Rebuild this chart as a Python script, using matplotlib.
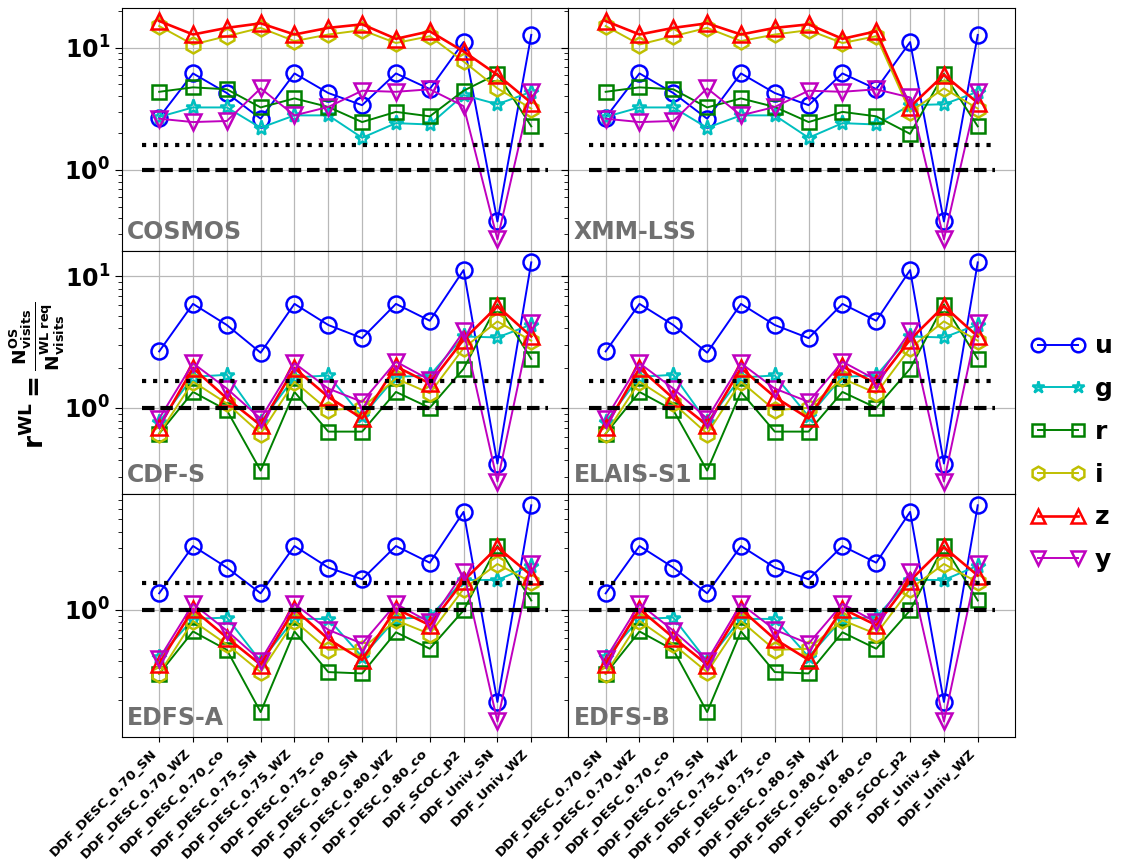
import matplotlib
matplotlib.use("Agg")
import matplotlib.pyplot as plt

configs = ['DDF_DESC_0.70_SN', 'DDF_DESC_0.70_WZ', 'DDF_DESC_0.70_co',
           'DDF_DESC_0.75_SN', 'DDF_DESC_0.75_WZ', 'DDF_DESC_0.75_co',
           'DDF_DESC_0.80_SN', 'DDF_DESC_0.80_WZ', 'DDF_DESC_0.80_co',
           'DDF_SCOC_p2', 'DDF_Univ_SN', 'DDF_Univ_WZ']
bands = ['u', 'g', 'r', 'i', 'z', 'y']
fields = ['COSMOS', 'XMM-LSS', 'CDF-S', 'ELAIS-S1', 'EDFS-A', 'EDFS-B']

# ratio of observing-strategy visits to WL-required visits, per field and band
cosmos_u = [2.68, 6.15, 4.25, 2.62, 6.15, 4.25, 3.38, 6.15, 4.58, 11.1, 0.378, 12.7]
cosmos_g = [2.71, 3.24, 3.24, 2.21, 2.79, 2.79, 1.83, 2.41, 2.35, 4.09, 3.44, 4.35]
cosmos_r = [4.35, 4.73, 4.56, 3.24, 3.84, 3.27, 2.46, 2.98, 2.74, 4.44, 6.10, 2.27]
cosmos_i = [15.0, 10.6, 12.4, 14.5, 11.3, 12.8, 13.9, 10.9, 12.4, 7.70, 4.64, 3.17]
cosmos_z = [16.5, 12.8, 14.5, 15.8, 12.8, 14.5, 15.5, 11.8, 13.6, 9.30, 5.98, 3.53]
cosmos_y = [2.62, 2.46, 2.51, 4.64, 2.79, 3.27, 4.44, 4.35, 4.56, 3.32, 0.270, 4.35]

xmm_u = [2.68, 6.15, 4.25, 2.62, 6.15, 4.25, 3.38, 6.15, 4.58, 11.1, 0.378, 12.7]
xmm_g = [2.71, 3.24, 3.24, 2.21, 2.79, 2.79, 1.83, 2.41, 2.35, 3.38, 3.44, 4.35]
xmm_r = [4.35, 4.73, 4.56, 3.24, 3.84, 3.27, 2.46, 2.98, 2.74, 1.97, 6.10, 2.27]
xmm_i = [15.0, 10.6, 12.4, 14.5, 11.3, 12.8, 13.9, 10.9, 12.4, 2.98, 4.64, 3.17]
xmm_z = [16.5, 12.8, 14.5, 15.8, 12.8, 14.5, 15.5, 11.8, 13.6, 3.27, 5.98, 3.53]
xmm_y = [2.62, 2.46, 2.51, 4.64, 2.79, 3.27, 4.44, 4.35, 4.56, 3.91, 0.270, 4.35]

cdfs_u = [2.68, 6.15, 4.25, 2.62, 6.15, 4.25, 3.38, 6.15, 4.58, 11.1, 0.378, 12.7]
cdfs_g = [0.78, 1.72, 1.78, 0.78, 1.70, 1.76, 0.86, 1.72, 1.76, 3.48, 3.42, 4.28]
cdfs_r = [0.637, 1.32, 0.96, 0.334, 1.32, 0.66, 0.66, 1.32, 1.00, 1.98, 6.08, 2.35]
cdfs_i = [0.637, 1.58, 1.08, 0.637, 1.58, 0.96, 1.00, 1.67, 1.29, 2.84, 4.53, 3.23]
cdfs_z = [0.716, 2.00, 1.18, 0.738, 2.00, 1.21, 0.83, 2.06, 1.53, 3.29, 5.90, 3.48]
cdfs_y = [0.829, 2.18, 1.40, 0.829, 2.18, 1.40, 1.11, 2.24, 1.63, 3.80, 0.276, 4.40]

elais_u = [2.68, 6.15, 4.25, 2.62, 6.15, 4.25, 3.38, 6.15, 4.58, 11.1, 0.378, 12.7]
elais_g = [0.78, 1.72, 1.78, 0.78, 1.70, 1.76, 0.86, 1.72, 1.76, 3.48, 3.42, 4.28]
elais_r = [0.637, 1.32, 0.96, 0.334, 1.32, 0.66, 0.66, 1.32, 1.00, 1.98, 6.08, 2.35]
elais_i = [0.637, 1.58, 1.08, 0.637, 1.58, 0.96, 1.00, 1.67, 1.29, 2.84, 4.53, 3.23]
elais_z = [0.716, 2.00, 1.18, 0.738, 2.00, 1.21, 0.83, 2.06, 1.53, 3.29, 5.90, 3.48]
elais_y = [0.829, 2.18, 1.40, 0.829, 2.18, 1.40, 1.11, 2.24, 1.63, 3.80, 0.276, 4.40]

edfsa_u = [1.34, 3.11, 2.12, 1.34, 3.11, 2.12, 1.72, 3.11, 2.31, 5.71, 0.194, 6.42]
edfsa_g = [0.43, 0.85, 0.87, 0.40, 0.85, 0.85, 0.433, 0.85, 0.88, 1.70, 1.70, 2.19]
edfsa_r = [0.32, 0.68, 0.49, 0.162, 0.68, 0.33, 0.322, 0.67, 0.50, 0.99, 3.12, 1.18]
edfsa_i = [0.32, 0.82, 0.54, 0.33, 0.82, 0.49, 0.50, 0.83, 0.65, 1.45, 2.26, 1.63]
edfsa_z = [0.382, 1.01, 0.61, 0.377, 1.01, 0.594, 0.41, 1.02, 0.76, 1.68, 3.04, 1.84]
edfsa_y = [0.418, 1.11, 0.69, 0.405, 1.11, 0.70, 0.548, 1.11, 0.80, 1.95, 0.137, 2.26]

edfsb_u = [1.34, 3.11, 2.12, 1.34, 3.11, 2.12, 1.72, 3.11, 2.31, 5.71, 0.194, 6.42]
edfsb_g = [0.43, 0.85, 0.87, 0.40, 0.85, 0.85, 0.433, 0.85, 0.88, 1.70, 1.70, 2.19]
edfsb_r = [0.32, 0.68, 0.49, 0.162, 0.68, 0.33, 0.322, 0.67, 0.50, 0.99, 3.12, 1.18]
edfsb_i = [0.32, 0.82, 0.54, 0.33, 0.82, 0.49, 0.50, 0.83, 0.65, 1.45, 2.26, 1.63]
edfsb_z = [0.382, 1.01, 0.61, 0.377, 1.01, 0.594, 0.41, 1.02, 0.76, 1.68, 3.04, 1.84]
edfsb_y = [0.418, 1.11, 0.69, 0.405, 1.11, 0.70, 0.548, 1.11, 0.80, 1.95, 0.137, 2.26]

ratio_req = 1.0      # WL requirement
ratio_ref = 1.6      # reference level (dotted)

field_data = {
    'COSMOS': [cosmos_u, cosmos_g, cosmos_r, cosmos_i, cosmos_z, cosmos_y],
    'XMM-LSS': [xmm_u, xmm_g, xmm_r, xmm_i, xmm_z, xmm_y],
    'CDF-S': [cdfs_u, cdfs_g, cdfs_r, cdfs_i, cdfs_z, cdfs_y],
    'ELAIS-S1': [elais_u, elais_g, elais_r, elais_i, elais_z, elais_y],
    'EDFS-A': [edfsa_u, edfsa_g, edfsa_r, edfsa_i, edfsa_z, edfsa_y],
    'EDFS-B': [edfsb_u, edfsb_g, edfsb_r, edfsb_i, edfsb_z, edfsb_y],
}

styles = {
    'u': dict(color='b', marker='o', ms=11.5, lw=1.4),
    'g': dict(color='c', marker='*', ms=11, lw=1.4),
    'r': dict(color='g', marker='s', ms=10.5, lw=1.4),
    'i': dict(color='y', marker='h', ms=11.5, lw=1.4),
    'z': dict(color='r', marker='^', ms=11.5, lw=1.9),
    'y': dict(color='m', marker='v', ms=11.5, lw=1.4),
}
row_ylims = [(0.217, 21.1), (0.222, 15.5), (0.104, 7.85)]

plt.rcParams['mathtext.default'] = 'regular'

fig = plt.figure(figsize=(11.21, 8.65), dpi=100)
axes = fig.subplots(3, 2, sharex=True, sharey='row')
fig.subplots_adjust(left=0.1088, right=0.9054, top=0.9908, bottom=0.148,
                    hspace=0, wspace=0)

xpos = list(range(len(configs)))
for k, name in enumerate(fields):
    ax = axes[k // 2, k % 2]
    for band, vals in zip(bands, field_data[name]):
        st = styles[band]
        ax.plot(xpos, vals, color=st['color'], marker=st['marker'],
                ms=st['ms'], lw=st['lw'], mfc='none', mew=1.8, label=band)
    ax.plot([-0.5, 11.5], [ratio_ref, ratio_ref], color='k', ls=':', lw=3)
    ax.plot([-0.5, 11.5], [ratio_req, ratio_req], color='k',
            ls=(0, (3.0, 1.4)), lw=3)
    ax.set_yscale('log')
    ax.set_ylim(*row_ylims[k // 2])
    ax.set_xlim(-1.1, 12.1)
    ax.grid(True, which='major', color='#b8b8b8', lw=0.9)
    ax.set_axisbelow(True)
    ax.text(0.012, 0.05, name, transform=ax.transAxes, fontsize=17,
            fontweight='bold', color='#707070', va='baseline', ha='left')
    ax.tick_params(axis='y', which='major', labelsize=17, length=5)
    ax.tick_params(axis='y', which='minor', length=3)
    ax.set_xticks(xpos)

for ax in axes[2]:
    ax.set_xticks(xpos)
    ax.set_xticklabels(configs, rotation=45, ha='right', fontsize=9.6,
                       fontweight='bold')

for row in axes:
    for lab in row[0].get_yticklabels():
        lab.set_fontweight('bold')
        lab.set_fontsize(17)

fig.text(0.033, 0.566,
         r'$r^{WL} = \frac{N_{visits}^{OS}}{N_{visits}^{WL\ req}}$',
         rotation=90, fontsize=19, fontweight='bold', va='center', ha='center')

handles, labels = axes[0, 0].get_legend_handles_labels()
fig.legend(handles[:6], labels[:6], loc='center left',
           bbox_to_anchor=(0.91, 0.476), frameon=False, numpoints=2,
           prop=dict(size=18, weight='bold'), handlelength=2.2,
           handletextpad=0.4, labelspacing=0.75, markerscale=0.85,
           borderaxespad=0.0)

fig.savefig('out.png', dpi=100)
